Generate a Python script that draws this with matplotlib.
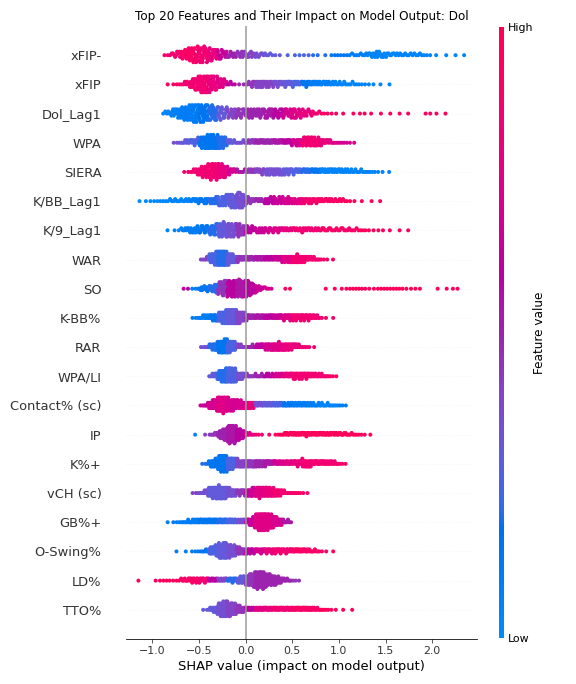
import numpy as np
import matplotlib
matplotlib.use("Agg")
import matplotlib.pyplot as plt
from matplotlib.colors import LinearSegmentedColormap
from matplotlib.cm import ScalarMappable

# features, top (most important) to bottom
FEATURES = ["xFIP-", "xFIP", "Dol_Lag1", "WPA", "SIERA", "K/BB_Lag1", "K/9_Lag1",
            "WAR", "SO", "K-BB%", "RAR", "WPA/LI", "Contact% (sc)", "IP", "K%+",
            "vCH (sc)", "GB%+", "O-Swing%", "LD%", "TTO%"]

BIN_WIDTH = 0.1
# left edge of the first SHAP bin of each feature
BIN_START = [-0.9, -0.9, -0.9, -0.8, -0.7, -1.2, -0.9, -0.5, -0.7, -0.6,
             -0.5, -0.4, -0.5, -0.6, -0.5, -0.6, -0.9, -0.8, -1.2, -0.5]

# number of samples in each 0.1 wide SHAP bin
BIN_COUNTS = [
    [3, 10, 19, 28, 29, 22, 16, 11, 11, 11, 8, 5, 2, 1, 2, 2, 2, 1, 3, 3, 4, 5, 9, 11, 7, 6, 5, 5, 3, 1, 1, 1, 1],
    [1, 3, 7, 20, 29, 26, 15, 5, 2, 9, 12, 11, 10, 10, 9, 9, 9, 8, 7, 6, 5, 3, 2, 1, 1],
    [6, 15, 22, 29, 28, 25, 20, 16, 15, 15, 15, 15, 15, 15, 16, 11, 6, 3, 2, 1, 1, 2, 1, 1, 1, 1, 1, 0, 2, 1, 1],
    [3, 8, 12, 25, 29, 24, 9, 6, 9, 10, 10, 10, 11, 14, 20, 19, 12, 6, 4, 2],
    [2, 8, 20, 29, 25, 11, 6, 8, 10, 13, 13, 12, 10, 9, 9, 9, 9, 8, 7, 6, 4, 2, 1],
    [1, 2, 3, 4, 6, 6, 8, 10, 13, 20, 26, 29, 11, 8, 13, 14, 13, 12, 11, 9, 8, 7, 5, 2, 1, 1, 1],
    [1, 2, 8, 13, 15, 20, 28, 26, 22, 13, 11, 10, 9, 8, 8, 8, 7, 7, 6, 6, 5, 4, 2, 2, 1, 1, 1],
    [6, 30, 43, 27, 13, 12, 12, 12, 15, 18, 22, 16, 9, 3, 1],
    [2, 3, 13, 18, 39, 43, 45, 36, 12, 4, 0, 2, 0, 0, 0, 1, 1, 2, 3, 3, 2, 3, 3, 3, 2, 2, 0, 1, 1, 2],
    [3, 10, 16, 30, 39, 30, 13, 12, 12, 13, 15, 16, 15, 10, 2, 1],
    [5, 20, 42, 35, 11, 9, 15, 22, 26, 22, 15, 5, 1],
    [12, 35, 42, 20, 9, 9, 10, 11, 15, 18, 16, 12, 8, 3],
    [7, 25, 40, 30, 22, 18, 12, 11, 11, 10, 10, 10, 9, 8, 6, 3],
    [1, 1, 8, 30, 55, 30, 8, 3, 1, 4, 9, 10, 11, 11, 10, 10, 9, 6, 3, 1],
    [3, 20, 42, 30, 20, 19, 17, 14, 11, 11, 14, 20, 14, 12, 9, 3],
    [3, 12, 35, 40, 25, 18, 25, 33, 30, 20, 9, 5, 2],
    [1, 3, 7, 12, 14, 15, 15, 15, 12, 20, 50, 45, 25, 8],
    [1, 1, 3, 7, 25, 45, 35, 20, 15, 13, 14, 14, 13, 12, 10, 7, 2, 1],
    [1, 0, 2, 3, 3, 9, 14, 13, 10, 10, 12, 20, 35, 48, 35, 20, 8, 3],
    [2, 15, 45, 40, 20, 11, 11, 12, 12, 12, 12, 12, 9, 5, 2, 1, 1],
]

# typical feature value in each bin (0 = low, 1 = high)
BIN_COLORS = [
    [.85, .85, .9, .9, .85, .8, .65, .5, .45, .4, .35, .3, .3, .25, .25, .25, .2, .2, .15, .15, .1, .08, .05, .05, .05, .05, .05, .05, .05, .05, .05, .05, .05],
    [.95, .9, .85, .85, .85, .8, .75, .6, .5, .45, .4, .4, .35, .3, .25, .15, .1, .08, .05, .05, .05, .05, .05, .05, .05],
    [.05, .08, .1, .1, .15, .2, .3, .4, .45, .5, .5, .55, .6, .7, .75, .8, .85, .9, .95, .95, .95, .95, .95, .95, .95, .95, .95, .95, .95, .95, .95],
    [.35, .3, .25, .15, .15, .2, .3, .35, .45, .5, .5, .55, .6, .7, .85, .85, .8, .75, .7, .7],
    [.85, .85, .85, .85, .8, .7, .55, .45, .4, .35, .35, .3, .25, .2, .15, .05, .05, .05, .05, .05, .05, .05, .05],
    [0, .02, .02, .03, .05, .05, .1, .15, .2, .25, .3, .35, .45, .5, .6, .65, .7, .75, .85, .9, .9, .9, .95, .95, .95, .95, .95],
    [.05, .05, .1, .1, .15, .2, .3, .35, .45, .6, .65, .7, .75, .8, .85, .85, .85, .9, .9, .9, .9, .95, .95, .95, .95, .95, .95],
    [.4, .25, .2, .3, .45, .5, .55, .6, .65, .75, .85, .85, .85, .9, .95],
    [.6, .1, .15, .2, .45, .6, .55, .6, .65, .7, .95, .95, .95, .95, .95, .95, .95, .95, .95, .95, .95, .95, .95, .95, .95, .95, .95, .95, .95, .95],
    [.1, .1, .15, .25, .3, .4, .5, .55, .6, .65, .75, .85, .85, .85, .9, .9],
    [.35, .2, .15, .25, .4, .5, .6, .7, .75, .8, .8, .85, .9],
    [.3, .2, .25, .35, .45, .5, .6, .7, .8, .85, .85, .85, .85, .9],
    [.65, .7, .75, .7, .7, .8, .35, .3, .25, .15, .1, .1, .08, .05, .05, .1],
    [.05, .4, .45, .5, .55, .6, .75, .85, .9, .95, .95, .95, .95, .95, .95, .95, .95, .95, .95, .95],
    [.2, .15, .15, .25, .4, .45, .5, .55, .7, .75, .8, .85, .85, .85, .85, .9],
    [.4, .35, .3, .3, .35, .45, .65, .75, .8, .85, .85, .9, .9],
    [.1, .1, .1, .1, .15, .15, .2, .25, .35, .65, .75, .75, .7, .55],
    [.1, .1, .1, .15, .25, .3, .35, .45, .6, .7, .8, .85, .85, .9, .9, .9, .9, .95],
    [.95, .95, .95, .95, .95, .9, .9, .85, .6, .4, .2, .3, .45, .5, .5, .5, .5, .45],
    [.3, .3, .35, .4, .45, .6, .75, .8, .85, .85, .9, .9, .9, .95, .95, .95, .95],
]


def lch_to_rgb(l, c, h):
    a, b = c * np.cos(h), c * np.sin(h)
    fy = (l + 16.) / 116.
    f = np.array([fy + a / 500., fy, fy - b / 200.])
    xyz = np.where(f > 6 / 29, f ** 3, 3 * (6 / 29) ** 2 * (f - 4 / 29))
    xyz *= np.array([0.95047, 1.0, 1.08883])
    m = np.array([[3.2406, -1.5372, -0.4986],
                  [-0.9689, 1.8758, 0.0415],
                  [0.0557, -0.2040, 1.0570]])
    rgb = m @ xyz
    rgb = np.where(rgb > 0.0031308, 1.055 * np.abs(rgb) ** (1 / 2.4) - 0.055, 12.92 * rgb)
    return np.clip(rgb, 0, 1)


def shap_red_blue():
    # same construction as shap's red_blue map (blue -> purple -> red in LCH)
    n = 100
    blue_lch = [54., 70., 4.6588]
    red_lch = [54., 90., 0.35470565 + 2 * np.pi]
    l_vals = list(np.linspace(blue_lch[0], 40., n // 2)) + list(np.linspace(40., red_lch[0], n // 2))
    c_vals = np.linspace(blue_lch[1], red_lch[1], n)
    h_vals = np.linspace(blue_lch[2], red_lch[2], n)
    cols = [lch_to_rgb(l, c, h) for l, c, h in zip(l_vals, c_vals, h_vals)]
    return LinearSegmentedColormap.from_list("red_blue", cols)


def expand(start, counts, colors):
    """Spread each bin's samples over the bin, density sloping toward the neighbours."""
    xs, cs = [], []
    padded = [0] + list(counts) + [0]
    for i, (n, c) in enumerate(zip(counts, colors)):
        if n == 0:
            continue
        lo = start + i * BIN_WIDTH
        dl = (padded[i] + n) / 2.
        dr = (n + padded[i + 2]) / 2.
        for k in range(n):
            q = (k + 0.5) / n * (dl + dr) / 2.
            if abs(dr - dl) < 1e-9:
                t = q / dl
            else:
                t = (-dl + np.sqrt(dl * dl + 2 * (dr - dl) * q)) / (dr - dl)
            xs.append(lo + t * BIN_WIDTH)
            cs.append(c)
    return np.array(xs), np.array(cs)


def swarm(shaps, row_height=0.4, nbins=100):
    # shap's beeswarm layout; ties inside a bin broken in a scrambled (but fixed) order
    quant = np.round(nbins * (shaps - shaps.min()) / (shaps.max() - shaps.min() + 1e-8))
    scramble = (np.arange(len(shaps)) * 0.6180339887) % 1.0
    inds = np.lexsort((scramble, quant))
    ys = np.zeros(len(shaps))
    layer, last_bin = 0, -1
    for ind in inds:
        if quant[ind] != last_bin:
            layer = 0
        ys[ind] = np.ceil(layer / 2) * ((layer % 2) * 2 - 1)
        layer += 1
        last_bin = quant[ind]
    ys *= 0.9 * (row_height / np.max(ys + 1))
    return ys


cmap = shap_red_blue()
axis_color = "#333333"

fig = plt.figure(figsize=(8, 9.5), dpi=72)
ax = fig.add_axes([126 / 576, 45 / 684, 351 / 576, 613 / 684])

n_feat = len(FEATURES)
ax.axvline(x=0, color="#999999", zorder=5)
for i, name in enumerate(FEATURES):
    pos = n_feat - 1 - i
    ax.axhline(y=pos, color="#cccccc", lw=0.5, dashes=(1, 5), zorder=-1)
    shaps, fvals = expand(BIN_START[i], BIN_COUNTS[i], BIN_COLORS[i])
    ys = swarm(shaps)
    ax.scatter(shaps, pos + ys, c=fvals, cmap=cmap, vmin=0, vmax=1, s=16,
               linewidth=0, alpha=1, zorder=3, rasterized=True)

ax.set_yticks(range(n_feat))
ax.set_yticklabels(FEATURES[::-1], fontsize=13)
ax.set_ylim(-1, n_feat)
ax.set_xlim(-1.283, 2.48)
ax.set_xticks([-1.0, -0.5, 0.0, 0.5, 1.0, 1.5, 2.0])
ax.tick_params(color=axis_color, labelcolor=axis_color)
ax.tick_params("y", length=0, pad=24.5)
ax.tick_params("x", labelsize=11)
for side in ["right", "top", "left"]:
    ax.spines[side].set_visible(False)
ax.set_xlabel("SHAP value (impact on model output)", fontsize=13)
ax.set_title("Top 20 Features and Their Impact on Model Output: Dol", fontsize=12)

cax = fig.add_axes([499 / 576, 46 / 684, 5 / 576, 611 / 684])
sm = ScalarMappable(cmap=cmap)
sm.set_array([0, 1])
cb = fig.colorbar(sm, cax=cax, ticks=[0, 1])
cb.set_ticklabels(["Low", "High"])
cb.set_label("Feature value", size=12, labelpad=0)
cb.ax.tick_params(labelsize=11, length=0)
cb.outline.set_visible(False)

fig.savefig("out.png", dpi=72)
